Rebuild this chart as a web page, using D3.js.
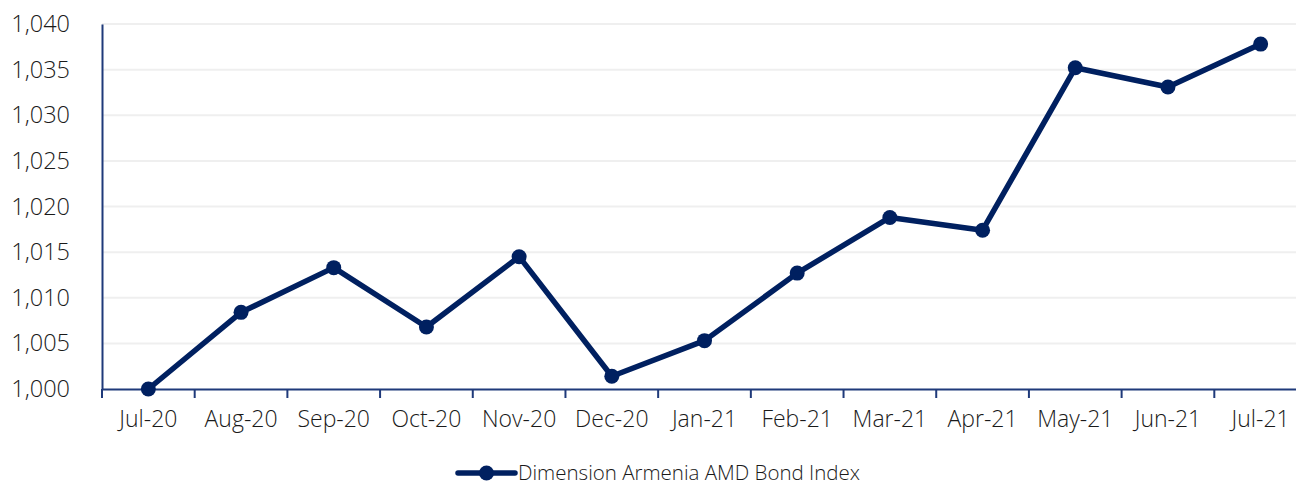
<html>
<head>
  <script src="https://d3js.org/d3.v7.min.js"></script>
  <style>
    body { margin: 0; background: #fff; }
    text { font-family: "Open Sans", "Noto Sans", sans-serif; font-weight: 300; fill: #1a1a1a; }
  </style>
</head>
<body>
  <svg id="chart" width="1296" height="488"></svg>
  <script>
    const months = ["Jul-20", "Aug-20", "Sep-20", "Oct-20", "Nov-20", "Dec-20", "Jan-21",
      "Feb-21", "Mar-21", "Apr-21", "May-21", "Jun-21", "Jul-21"];
    const indexValues = [1000.0, 1008.4, 1013.3, 1006.8, 1014.5, 1001.4, 1005.3,
      1012.7, 1018.8, 1017.4, 1035.2, 1033.1, 1037.8];
    const yTicks = [1000, 1005, 1010, 1015, 1020, 1025, 1030, 1035, 1040];
    const seriesName = "Dimension Armenia AMD Bond Index";

    const navy = "#002060";
    const svg = d3.select("#chart");

    const x = d3.scaleBand().domain(months).range([102, 1307]);
    const y = d3.scaleLinear().domain([1000, 1040]).range([389, 24]);

    // gridlines
    svg.append("g").selectAll("line").data(yTicks.slice(1))
      .join("line")
      .attr("x1", 102).attr("x2", 1296)
      .attr("y1", d => y(d)).attr("y2", d => y(d))
      .attr("stroke", "#efefef").attr("stroke-width", 2);

    // y axis
    const yAxis = svg.append("g")
      .attr("transform", "translate(102,0)")
      .call(d3.axisLeft(y).tickValues(yTicks).tickSize(0).tickPadding(32).tickFormat(d3.format(",")));
    yAxis.select(".domain").attr("stroke", "#1f3a7a").attr("stroke-width", 2);
    yAxis.selectAll("text").style("font-size", "23.5px").style("font-family", null);

    // x axis
    const xAxis = svg.append("g")
      .attr("transform", "translate(0,389)")
      .call(d3.axisBottom(x).tickSize(0).tickPadding(22));
    xAxis.select(".domain").attr("stroke", "#1f3a7a").attr("stroke-width", 2);
    xAxis.selectAll("text").style("font-size", "23px").style("font-family", null);
    xAxis.selectAll("line.sep").data(months)
      .join("line").attr("class", "sep")
      .attr("x1", d => x(d)).attr("x2", d => x(d))
      .attr("y1", 0).attr("y2", 9)
      .attr("stroke", "#1f3a7a").attr("stroke-width", 2);

    // line
    const pts = months.map((m, i) => [x(m) + x.bandwidth() / 2, y(indexValues[i])]);
    svg.append("path")
      .attr("d", d3.line()(pts))
      .attr("fill", "none").attr("stroke", navy).attr("stroke-width", 5.5)
      .attr("stroke-linejoin", "round");
    svg.append("g").selectAll("circle").data(pts)
      .join("circle")
      .attr("cx", d => d[0]).attr("cy", d => d[1]).attr("r", 7.5)
      .attr("fill", navy);

    // legend
    const lg = svg.append("g").attr("transform", "translate(458,473)");
    lg.append("line").attr("x1", 0).attr("x2", 57).attr("y1", 0).attr("y2", 0)
      .attr("stroke", navy).attr("stroke-width", 5.5).attr("stroke-linecap", "round");
    lg.append("circle").attr("cx", 28.5).attr("cy", 0).attr("r", 7.5).attr("fill", navy);
    lg.append("text").attr("x", 60).attr("y", 0).attr("dy", "0.35em")
      .style("font-size", "20.5px").text(seriesName);
  </script>
</body>
</html>
